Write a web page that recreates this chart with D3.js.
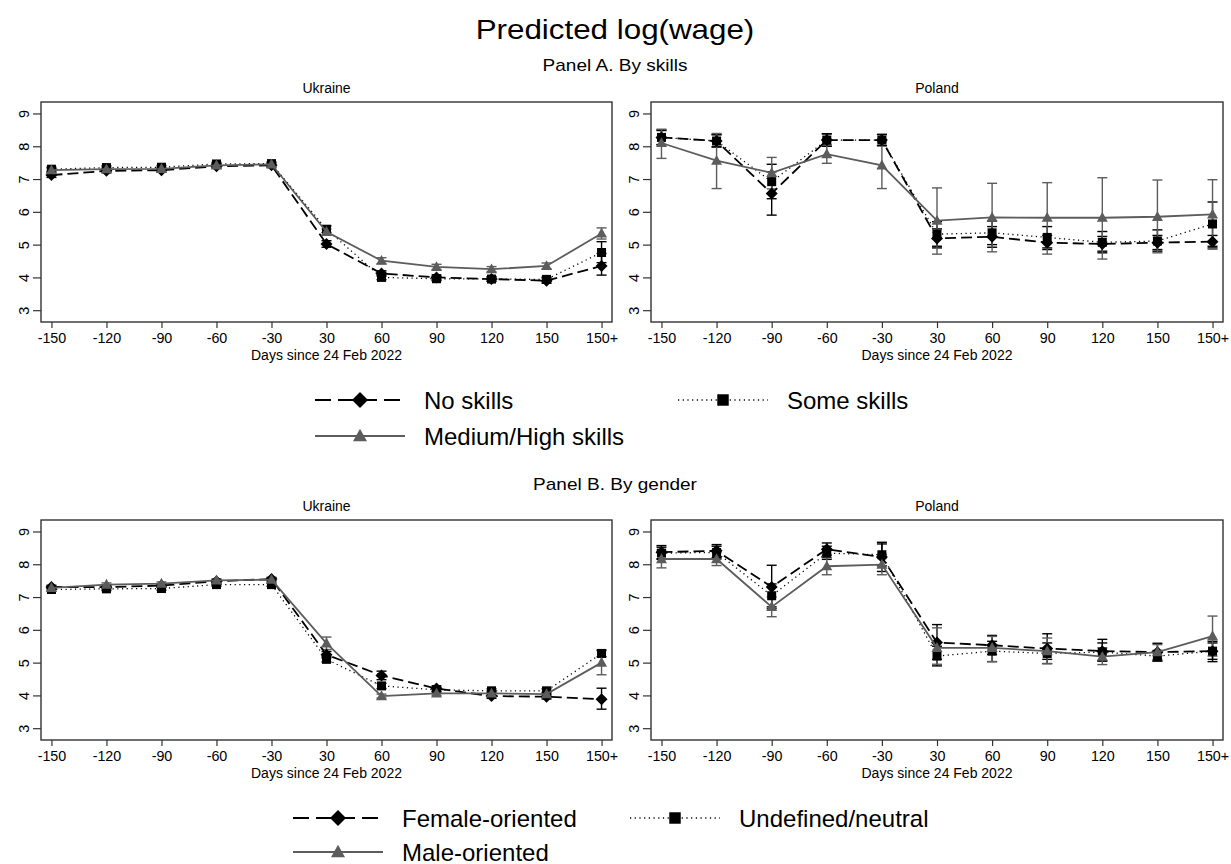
<!DOCTYPE html>
<html>
<head>
<meta charset="utf-8">
<script src="https://cdn.jsdelivr.net/npm/d3@7"></script>
<style>
  body { margin: 0; background: #fff; }
  svg { font-family: "Liberation Sans", Arial, Helvetica, sans-serif; }
</style>
</head>
<body>
<div id="chart"></div>
<script>
// Predicted log(wage), by skills (panel A) and by gender (panel B)

const xLabels = ['-150', '-120', '-90', '-60', '-30', '30', '60', '90', '120', '150', '150+'];
const yTicks = [3, 4, 5, 6, 7, 8, 9];

// Panel A, Ukraine
const aUkrNone   = [7.12, 7.25, 7.27, 7.39, 7.42, 5.02, 4.12, 4.00, 3.95, 3.90, 4.35];
const aUkrNoneLo = [7.05, 7.19, 7.21, 7.33, 7.36, 4.92, 4.04, 3.93, 3.88, 3.82, 4.07];
const aUkrNoneHi = [7.19, 7.31, 7.33, 7.45, 7.48, 5.12, 4.20, 4.07, 4.02, 3.98, 4.73];
const aUkrSome   = [7.30, 7.35, 7.36, 7.46, 7.47, 5.47, 4.00, 3.96, 3.95, 3.94, 4.76];
const aUkrSomeLo = [7.24, 7.30, 7.31, 7.41, 7.42, 5.37, 3.93, 3.90, 3.89, 3.87, 4.45];
const aUkrSomeHi = [7.36, 7.40, 7.41, 7.51, 7.52, 5.57, 4.07, 4.02, 4.01, 4.01, 5.09];
const aUkrHigh   = [7.27, 7.30, 7.31, 7.42, 7.45, 5.39, 4.51, 4.32, 4.25, 4.35, 5.34];
const aUkrHighLo = [7.22, 7.25, 7.26, 7.37, 7.40, 5.30, 4.42, 4.24, 4.17, 4.26, 5.17];
const aUkrHighHi = [7.32, 7.35, 7.36, 7.47, 7.50, 5.48, 4.60, 4.40, 4.33, 4.44, 5.51];

// Panel A, Poland
const aPolNone   = [8.27, 8.16, 6.56, 8.19, 8.19, 5.19, 5.24, 5.06, 5.02, 5.06, 5.09];
const aPolNoneLo = [8.05, 7.98, 5.90, 8.00, 8.02, 4.90, 4.92, 4.85, 4.80, 4.85, 4.90];
const aPolNoneHi = [8.50, 8.36, 7.22, 8.38, 8.36, 5.48, 5.55, 5.28, 5.25, 5.28, 5.28];
const aPolSome   = [8.27, 8.16, 6.92, 8.19, 8.19, 5.32, 5.36, 5.22, 5.07, 5.11, 5.63];
const aPolSomeLo = [8.05, 7.98, 6.40, 8.00, 8.02, 4.95, 5.00, 4.90, 4.75, 4.80, 4.95];
const aPolSomeHi = [8.48, 8.35, 7.45, 8.38, 8.36, 5.70, 5.72, 5.55, 5.40, 5.45, 6.30];
const aPolHigh   = [8.10, 7.56, 7.19, 7.76, 7.42, 5.73, 5.83, 5.82, 5.82, 5.85, 5.92];
const aPolHighLo = [7.63, 6.71, 6.70, 7.48, 6.71, 4.71, 4.78, 4.71, 4.56, 4.75, 4.86];
const aPolHighHi = [8.52, 8.39, 7.66, 8.05, 8.13, 6.73, 6.87, 6.89, 7.04, 6.97, 6.98];

// Panel B, Ukraine
const bUkrFem    = [7.31, 7.30, 7.35, 7.48, 7.55, 5.24, 4.61, 4.21, 3.98, 3.96, 3.88];
const bUkrFemLo  = [7.26, 7.25, 7.30, 7.43, 7.50, 5.14, 4.48, 4.13, 3.91, 3.89, 3.58];
const bUkrFemHi  = [7.36, 7.35, 7.40, 7.53, 7.60, 5.34, 4.74, 4.29, 4.05, 4.03, 4.22];
const bUkrNeu    = [7.23, 7.25, 7.26, 7.38, 7.38, 5.10, 4.29, 4.17, 4.14, 4.14, 5.28];
const bUkrNeuLo  = [7.18, 7.20, 7.21, 7.33, 7.33, 5.02, 4.21, 4.11, 4.08, 4.08, 5.18];
const bUkrNeuHi  = [7.28, 7.30, 7.31, 7.43, 7.43, 5.18, 4.37, 4.23, 4.20, 4.20, 5.38];
const bUkrMale   = [7.28, 7.38, 7.41, 7.51, 7.53, 5.59, 3.98, 4.06, 4.06, 4.04, 5.00];
const bUkrMaleLo = [7.23, 7.33, 7.36, 7.46, 7.48, 5.40, 3.92, 4.00, 4.00, 3.98, 4.63];
const bUkrMaleHi = [7.33, 7.43, 7.46, 7.56, 7.58, 5.78, 4.04, 4.12, 4.12, 4.10, 5.37];

// Panel B, Poland
const bPolFem    = [8.37, 8.41, 7.31, 8.46, 8.22, 5.61, 5.53, 5.43, 5.35, 5.32, 5.35];
const bPolFemLo  = [8.17, 8.20, 6.65, 8.28, 7.78, 5.10, 5.25, 5.10, 5.05, 5.05, 5.10];
const bPolFemHi  = [8.57, 8.60, 7.97, 8.65, 8.67, 6.16, 5.83, 5.88, 5.71, 5.59, 5.60];
const bPolNeu    = [8.34, 8.36, 7.04, 8.34, 8.29, 5.20, 5.35, 5.28, 5.32, 5.20, 5.35];
const bPolNeuLo  = [8.15, 8.16, 6.70, 8.15, 7.95, 4.90, 5.03, 4.97, 5.05, 5.05, 5.03];
const bPolNeuHi  = [8.52, 8.55, 7.40, 8.55, 8.62, 5.50, 5.65, 5.60, 5.60, 5.37, 5.65];
const bPolMale   = [8.16, 8.16, 6.70, 7.94, 7.99, 5.45, 5.45, 5.35, 5.18, 5.32, 5.81];
const bPolMaleLo = [7.89, 7.96, 6.40, 7.68, 7.68, 4.95, 5.03, 4.97, 4.94, 5.10, 5.20];
const bPolMaleHi = [8.43, 8.36, 7.00, 8.20, 8.30, 6.06, 5.80, 5.75, 5.45, 5.55, 6.42];

const skillNames  = ['No skills', 'Some skills', 'Medium/High skills'];
const genderNames = ['Female-oriented', 'Undefined/neutral', 'Male-oriented'];

// styles for series 0 (dashed diamond), 1 (dotted square), 2 (solid triangle)
const GRAY = '#5c5c5c';
const styles = [
  { color: '#000', dash: '11,5', legDash: '16,7', width: 1.8, marker: 'diamond' },
  { color: '#000', dash: '1.2,3.5', legDash: '1.2,3.5', width: 1.3, marker: 'square' },
  { color: GRAY,   dash: null, legDash: null, width: 1.8, marker: 'triangle' }
];

function markerPath(type, r) {
  if (type === 'diamond') return `M0,${-r}L${r},0L0,${r}L${-r},0Z`;
  if (type === 'square') { const s = r * 0.82; return `M${-s},${-s}H${s}V${s}H${-s}Z`; }
  return `M0,${-r * 1.05}L${r},${r * 0.75}L${-r},${r * 0.75}Z`;
}

const W = 1231, H = 864;
const svg = d3.select('#chart').append('svg')
  .attr('width', W)
  .attr('height', H);

// titles are set a little wider than the sans font draws them
function wideText(x, y, size, sx, str) {
  svg.append('text')
    .attr('transform', `translate(${x},${y}) scale(${sx},1)`)
    .attr('text-anchor', 'middle')
    .style('font-size', size + 'px')
    .text(str);
}
wideText(615, 38.5, 28.5, 1.1, 'Predicted log(wage)');
wideText(615, 70.5, 17, 1.12, 'Panel A. By skills');
wideText(615, 489.5, 17, 1.12, 'Panel B. By gender');

function series(mean, lo, hi) {
  return mean.map((v, i) => ({ x: xLabels[i], v, lo: lo[i], hi: hi[i] }));
}

function drawPanel(left, top, width, height, title, seriesList) {
  const g = svg.append('g').attr('transform', `translate(${left},${top})`);

  const x = d3.scalePoint().domain(xLabels).range([0, width]).padding(0.19);
  const y = d3.scaleLinear().domain([2.64, 9.35]).range([height, 0]);

  // axes
  const yAxis = g.append('g')
    .call(d3.axisLeft(y).tickValues(yTicks).tickSize(8).tickFormat(d3.format('d')));
  yAxis.select('.domain').remove();
  yAxis.selectAll('line').attr('stroke', '#333').attr('stroke-width', 1.2);
  yAxis.selectAll('text')
    .attr('transform', 'rotate(-90)')
    .attr('x', 0).attr('y', -12).attr('dy', 0)
    .attr('text-anchor', 'middle')
    .style('font-size', '14.5px').attr('fill', '#000');

  const xAxis = g.append('g')
    .attr('transform', `translate(0,${height})`)
    .call(d3.axisBottom(x).tickSize(6));
  xAxis.select('.domain').remove();
  xAxis.selectAll('line').attr('stroke', '#333').attr('stroke-width', 1.2);
  xAxis.selectAll('text').attr('y', 21.3).attr('dy', 0)
    .style('font-size', '14.3px').attr('fill', '#000');

  g.append('text').attr('x', width / 2).attr('y', height + 38)
    .attr('text-anchor', 'middle').style('font-size', '14px').text('Days since 24 Feb 2022');
  g.append('text').attr('x', width / 2).attr('y', -9)
    .attr('text-anchor', 'middle').style('font-size', '14px').text(title);

  // error bars
  seriesList.forEach((s, k) => {
    const st = styles[k];
    const eb = g.append('g').attr('stroke', st.color).attr('stroke-width', 1.4).attr('fill', 'none');
    s.forEach(d => {
      const cx = x(d.x);
      eb.append('line').attr('x1', cx).attr('x2', cx).attr('y1', y(d.lo)).attr('y2', y(d.hi));
      eb.append('line').attr('x1', cx - 5).attr('x2', cx + 5).attr('y1', y(d.lo)).attr('y2', y(d.lo));
      eb.append('line').attr('x1', cx - 5).attr('x2', cx + 5).attr('y1', y(d.hi)).attr('y2', y(d.hi));
    });
  });

  // connected lines and markers
  const line = d3.line().x(d => x(d.x)).y(d => y(d.v));
  seriesList.forEach((s, k) => {
    const st = styles[k];
    g.append('path').datum(s)
      .attr('d', line)
      .attr('fill', 'none')
      .attr('stroke', st.color)
      .attr('stroke-width', st.width)
      .attr('stroke-dasharray', st.dash);
    g.selectAll(null).data(s).enter().append('path')
      .attr('transform', d => `translate(${x(d.x)},${y(d.v)})`)
      .attr('d', markerPath(st.marker, st.marker === 'diamond' ? 6 : 5.5))
      .attr('fill', st.color);
  });

  // frame
  g.append('rect').attr('width', width).attr('height', height)
    .attr('fill', 'none').attr('stroke', '#333').attr('stroke-width', 1.4);
}

drawPanel(41, 102, 571, 220, 'Ukraine', [
  series(aUkrNone, aUkrNoneLo, aUkrNoneHi),
  series(aUkrSome, aUkrSomeLo, aUkrSomeHi),
  series(aUkrHigh, aUkrHighLo, aUkrHighHi)
]);
drawPanel(651, 102, 572, 220, 'Poland', [
  series(aPolNone, aPolNoneLo, aPolNoneHi),
  series(aPolSome, aPolSomeLo, aPolSomeHi),
  series(aPolHigh, aPolHighLo, aPolHighHi)
]);
drawPanel(41, 520, 571, 220, 'Ukraine', [
  series(bUkrFem, bUkrFemLo, bUkrFemHi),
  series(bUkrNeu, bUkrNeuLo, bUkrNeuHi),
  series(bUkrMale, bUkrMaleLo, bUkrMaleHi)
]);
drawPanel(651, 520, 572, 220, 'Poland', [
  series(bPolFem, bPolFemLo, bPolFemHi),
  series(bPolNeu, bPolNeuLo, bPolNeuHi),
  series(bPolMale, bPolMaleLo, bPolMaleHi)
]);

// legends
function legendItem(x0, yc, k, label) {
  const st = styles[k];
  const g = svg.append('g');
  g.append('line').attr('x1', x0).attr('x2', x0 + 90).attr('y1', yc).attr('y2', yc)
    .attr('stroke', st.color).attr('stroke-width', st.width).attr('stroke-dasharray', st.legDash);
  g.append('path').attr('transform', `translate(${x0 + 45},${yc})`)
    .attr('d', markerPath(st.marker, st.marker === 'diamond' ? 8 : 7))
    .attr('fill', st.color);
  g.append('text').attr('x', x0 + 109).attr('y', yc + 8.5)
    .style('font-size', '24px').text(label);
}

legendItem(315, 400, 0, skillNames[0]);
legendItem(678, 400, 1, skillNames[1]);
legendItem(315, 436, 2, skillNames[2]);
legendItem(293, 818, 0, genderNames[0]);
legendItem(630, 818, 1, genderNames[1]);
legendItem(293, 852, 2, genderNames[2]);
</script>
</body>
</html>
